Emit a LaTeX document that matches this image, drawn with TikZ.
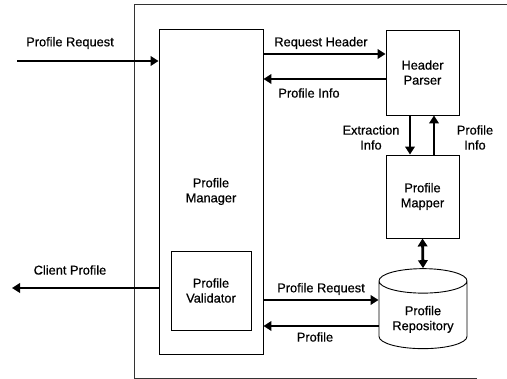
\documentclass[tikz,border=0pt]{standalone}
\usepackage{fontspec}
\setmainfont{Liberation Sans}[BoldFont={Liberation Sans}, BoldFeatures={FakeBold=0.6}]
\usepackage{tikz}
\usetikzlibrary{arrows.meta,positioning,shapes.geometric}
\tikzset{
  pm diagram/.style={font=\fontsize{12.8}{15}\selectfont\bfseries, text=black,
    line join=miter},
  pm box/.style={draw=black, fill=white, line width=0.9pt,
    align=center, inner sep=0pt},
  pm store/.style={pm box, shape=cylinder, shape border rotate=90,
    aspect=0.4},
  pm arrow/.style={-{Triangle[length=8pt,width=9.5pt]}, draw=black,
    line width=2.8pt},
  pm both/.style={pm arrow, {Triangle[length=8pt,width=9.5pt]}-{Triangle[length=8pt,width=9.5pt]}},
  pm label/.style={align=center, inner sep=0pt},
  pm frame/.style={draw=black!80, line width=0.8pt}
}
\begin{document}
\begin{tikzpicture}[pm diagram,x=1pt,y=-1pt]
\useasboundingbox (0,0) rectangle (507,379);
% open frame round the server side
\draw[pm frame] (507,4) -- (134,4) -- (134,378) -- (477,378);

% components
\node[pm box, minimum width=104pt, minimum height=325pt] (manager) at (211,191.5) {Profile\\Manager};
\node[pm box, minimum width=80pt, minimum height=79pt] (validator) at (211,290.5) {Profile\\Validator};
\node[pm box, minimum width=73pt, minimum height=85pt] (parser) at (422.5,72.5) {Header\\Parser};
\node[pm box, minimum width=73pt, minimum height=83pt] (mapper) at (422.5,196.5) {Profile\\Mapper};
\node[pm store, minimum width=88pt, minimum height=80pt, text height=33pt] (repo) at (423,315) {Profile\\Repository};

% free ends outside the frame
\coordinate (reqin) at (17,61);
\coordinate (clientout) at (12,288);

% connectors
\draw[pm arrow] (reqin) -- (reqin -| manager.west);
\draw[pm arrow] (clientout -| manager.west) -- (clientout);
\draw[pm arrow] ([yshift=18.5pt]parser.west -| manager.east) -- ([yshift=18.5pt]parser.west);
\draw[pm arrow] ([yshift=-6.5pt]parser.west) -- ([yshift=-6.5pt]parser.west -| manager.east);
\draw[pm arrow] ([xshift=-12.5pt]parser.south) -- ([xshift=-12.5pt]mapper.north);
\draw[pm arrow] ([xshift=11.5pt]mapper.north) -- ([xshift=11.5pt]parser.south);
\draw[pm both] (mapper.south) -- (repo.north);
\draw[pm arrow] ([yshift=15pt]repo.west -| manager.east) -- ([yshift=15pt]repo.west);
\draw[pm arrow] ([yshift=-11pt]repo.west) -- ([yshift=-11pt]repo.west -| manager.east);

% connector labels
\node[pm label] (lreqin) at (70,43) {Profile Request};
\node[pm label] (lclient) at (70,270) {Client Profile};
\node[pm label] (lhead) at (321,43) {Request Header};
\node[pm label] (linfo) at (309,93) {Profile Info};
\node[pm label] (lextract) at (371,137.5) {Extraction\\Info};
\node[pm label] (lmapinfo) at (475,137.5) {Profile\\Info};
\node[pm label] (lreqrepo) at (321,289) {Profile Request};
\node[pm label] (lprofile) at (315,337) {Profile};
\end{tikzpicture}
\end{document}
